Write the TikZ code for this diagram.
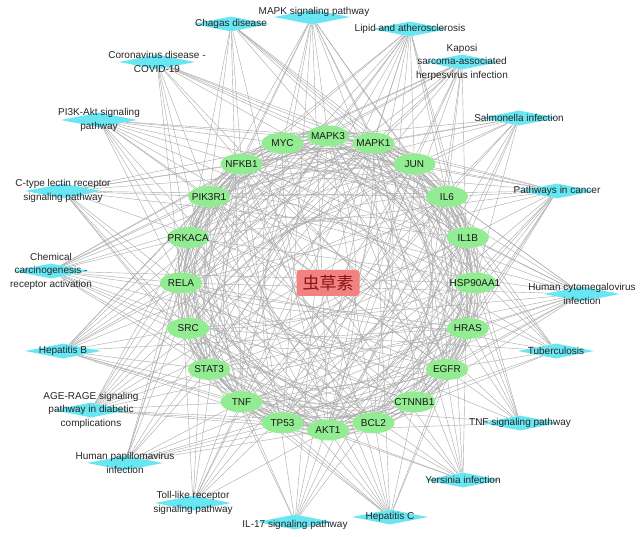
\documentclass[tikz,border=0pt]{standalone}
\usepackage{fontspec}
\setmainfont{Liberation Sans}
\newfontfamily\cjkfont{Noto Sans CJK SC}
\usetikzlibrary{shapes.geometric}
\definecolor{pwcyan}{RGB}{104,230,242}
\definecolor{protgreen}{RGB}{146,236,146}
\definecolor{hubred}{RGB}{240,130,130}
\definecolor{edgegray}{RGB}{172,172,172}
\definecolor{hubtext}{RGB}{140,20,20}
\pgfdeclarelayer{edges}
\pgfsetlayers{edges,main}
\begin{document}
\begin{tikzpicture}[x=1pt,y=-1pt,
  prot/.style={ellipse, fill=protgreen, minimum width=42pt, minimum height=21pt,
    inner xsep=-10pt, inner ysep=0pt, font=\fontsize{10}{12}\selectfont, text=black!90},
  pwshape/.style={diamond, fill=pwcyan, minimum width=76pt, minimum height=15pt, inner sep=0pt},
  pwtext/.style={align=center, font=\fontsize{10}{13.5}\selectfont, text=black!85, inner sep=0pt},
  hub/.style={rectangle, rounded corners=3pt, fill=hubred, minimum width=63pt, minimum height=26pt,
    inner sep=0pt, font=\cjkfont\fontsize{17}{20}\selectfont, text=hubtext},
  ppi/.style={draw=edgegray, line width=0.42pt},
  pwedge/.style={draw=edgegray, line width=0.42pt}]
\useasboundingbox (0,0) rectangle (643,537);

% hub
\node[hub] (hub) at (328,283) {虫草素};

% proteins on a circle
\foreach \n [count=\c from 0] in {MAPK3,MAPK1,JUN,IL6,IL1B,HSP90AA1,HRAS,EGFR,CTNNB1,BCL2,AKT1,TP53,TNF,STAT3,SRC,RELA,PRKACA,PIK3R1,NFKB1,MYC}{
  \node[prot, alias=p\c] (\n) at ({328+147*cos(90-18*\c)},{283-147*sin(90-18*\c)}) {\n};
}

% pathways
\node[pwshape] (mapk) at (312,17) {};
\node[pwtext] (mapk-t) at (314,12) {MAPK signaling pathway};
\node[pwshape] (chagas) at (231,24) {};
\node[pwtext] (chagas-t) at (chagas) {Chagas disease};
\node[pwshape] (covid) at (157,62) {};
\node[pwtext] (covid-t) at (covid) {Coronavirus disease -\\COVID-19};
\node[pwshape] (pi3k) at (99,120) {};
\node[pwtext] (pi3k-t) at (pi3k) {PI3K-Akt signaling\\pathway};
\node[pwshape] (ctype) at (63,191) {};
\node[pwtext] (ctype-t) at (ctype) {C-type lectin receptor\\signaling pathway};
\node[pwshape] (chem) at (51,271) {};
\node[pwtext] (chem-t) at (chem) {Chemical\\carcinogenesis -\\receptor activation};
\node[pwshape] (hepb) at (63,351) {};
\node[pwtext] (hepb-t) at (hepb) {Hepatitis B};
\node[pwshape] (age) at (91,410) {};
\node[pwtext] (age-t) at (age) {AGE-RAGE signaling\\pathway in diabetic\\complications};
\node[pwshape] (hpv) at (125,463) {};
\node[pwtext] (hpv-t) at (hpv) {Human papillomavirus\\infection};
\node[pwshape] (toll) at (193,503) {};
\node[pwtext] (toll-t) at (toll) {Toll-like receptor\\signaling pathway};
\node[pwshape] (il17) at (295,522) {};
\node[pwtext] (il17-t) at (295,525) {IL-17 signaling pathway};
\node[pwshape] (hepc) at (390,517) {};
\node[pwtext] (hepc-t) at (hepc) {Hepatitis C};
\node[pwshape] (yers) at (463,480) {};
\node[pwtext] (yers-t) at (yers) {Yersinia infection};
\node[pwshape] (tnfs) at (520,423) {};
\node[pwtext] (tnfs-t) at (tnfs) {TNF signaling pathway};
\node[pwshape] (tb) at (556,351) {};
\node[pwtext] (tb-t) at (tb) {Tuberculosis};
\node[pwshape] (hcmv) at (582,294) {};
\node[pwtext] (hcmv-t) at (hcmv) {Human cytomegalovirus\\infection};
\node[pwshape] (cancer) at (557,191) {};
\node[pwtext] (cancer-t) at (cancer) {Pathways in cancer};
\node[pwshape] (salm) at (519,118) {};
\node[pwtext] (salm-t) at (salm) {Salmonella infection};
\node[pwshape] (kaposi) at (462,62) {};
\node[pwtext] (kaposi-t) at (kaposi) {Kaposi\\sarcoma-associated\\herpesvirus infection};
\node[pwshape] (lipid) at (410,29) {};
\node[pwtext] (lipid-t) at (lipid) {Lipid and atherosclerosis};

\begin{pgfonlayer}{edges}
  \fill[white] (0,0) rectangle (643,537);
  % protein-protein interactions
  \foreach \i in {0,...,19}{
    \foreach \k in {2,3,4,5,6,7,9}{
      \pgfmathtruncatemacro\j{mod(\i+\k,20)}
      \draw[ppi] (p\i) to[bend left=26] (p\j);
    }
  }
  \foreach \i in {0,...,9}{
    \pgfmathtruncatemacro\j{\i+10}
    \draw[ppi] (p\i) to[bend left=18] (p\j);
  }
  % pathway - target links
  \foreach \pw/\lst in {
    mapk/{MYC,MAPK3,MAPK1,JUN,IL1B,HRAS,EGFR,AKT1,TP53,TNF,RELA,PRKACA,NFKB1},
    chagas/{MAPK3,MAPK1,JUN,IL6,IL1B,AKT1,TNF,RELA,PIK3R1,NFKB1},
    covid/{MAPK3,MAPK1,JUN,IL6,IL1B,TNF,STAT3,RELA,PIK3R1,NFKB1,EGFR},
    pi3k/{MYC,MAPK3,MAPK1,IL6,HSP90AA1,HRAS,EGFR,BCL2,AKT1,TP53,PIK3R1,RELA,NFKB1},
    ctype/{MAPK3,MAPK1,JUN,IL6,IL1B,HRAS,AKT1,TNF,STAT3,SRC,RELA,PIK3R1,NFKB1},
    chem/{MYC,MAPK3,MAPK1,JUN,HSP90AA1,HRAS,EGFR,CTNNB1,BCL2,AKT1,STAT3,SRC,RELA,PRKACA,PIK3R1,NFKB1},
    hepb/{MYC,MAPK3,MAPK1,JUN,IL6,HRAS,BCL2,AKT1,TP53,TNF,STAT3,SRC,RELA,PIK3R1,NFKB1},
    age/{MAPK3,MAPK1,JUN,IL6,IL1B,HRAS,BCL2,AKT1,TP53,TNF,STAT3,RELA,PIK3R1,NFKB1},
    hpv/{MAPK3,MAPK1,HRAS,EGFR,CTNNB1,AKT1,TP53,TNF,STAT3,RELA,PRKACA,PIK3R1,NFKB1},
    toll/{MAPK3,MAPK1,JUN,IL6,IL1B,AKT1,TNF,RELA,PIK3R1,NFKB1},
    il17/{MAPK3,MAPK1,JUN,IL6,IL1B,HSP90AA1,TNF,RELA,NFKB1},
    hepc/{MYC,MAPK3,MAPK1,HRAS,EGFR,CTNNB1,AKT1,TP53,TNF,STAT3,RELA,PIK3R1,NFKB1},
    yers/{MAPK3,MAPK1,JUN,IL6,IL1B,AKT1,TNF,RELA,PIK3R1,NFKB1,SRC},
    tnfs/{MAPK3,MAPK1,JUN,IL6,IL1B,AKT1,TNF,RELA,PIK3R1,NFKB1},
    tb/{MAPK3,MAPK1,IL6,IL1B,AKT1,BCL2,TNF,SRC,RELA,PIK3R1,NFKB1},
    hcmv/{MYC,MAPK3,MAPK1,IL6,IL1B,HRAS,EGFR,CTNNB1,AKT1,TP53,TNF,STAT3,SRC,RELA,PRKACA,PIK3R1,NFKB1},
    cancer/{MYC,MAPK3,MAPK1,JUN,IL6,HSP90AA1,HRAS,EGFR,CTNNB1,BCL2,AKT1,TP53,STAT3,RELA,PRKACA,PIK3R1,NFKB1},
    salm/{MAPK3,MAPK1,JUN,IL6,IL1B,AKT1,BCL2,TNF,RELA,PIK3R1,NFKB1,HSP90AA1},
    kaposi/{MYC,MAPK3,MAPK1,JUN,IL6,HRAS,CTNNB1,AKT1,TP53,STAT3,SRC,RELA,PIK3R1,NFKB1},
    lipid/{MAPK3,MAPK1,JUN,IL6,IL1B,HSP90AA1,BCL2,AKT1,TP53,TNF,STAT3,SRC,RELA,PIK3R1,NFKB1}}{
    \foreach \t in \lst {
      \draw[pwedge] (\pw) -- (\t);
    }
  }
\end{pgfonlayer}
\end{tikzpicture}
\end{document}
